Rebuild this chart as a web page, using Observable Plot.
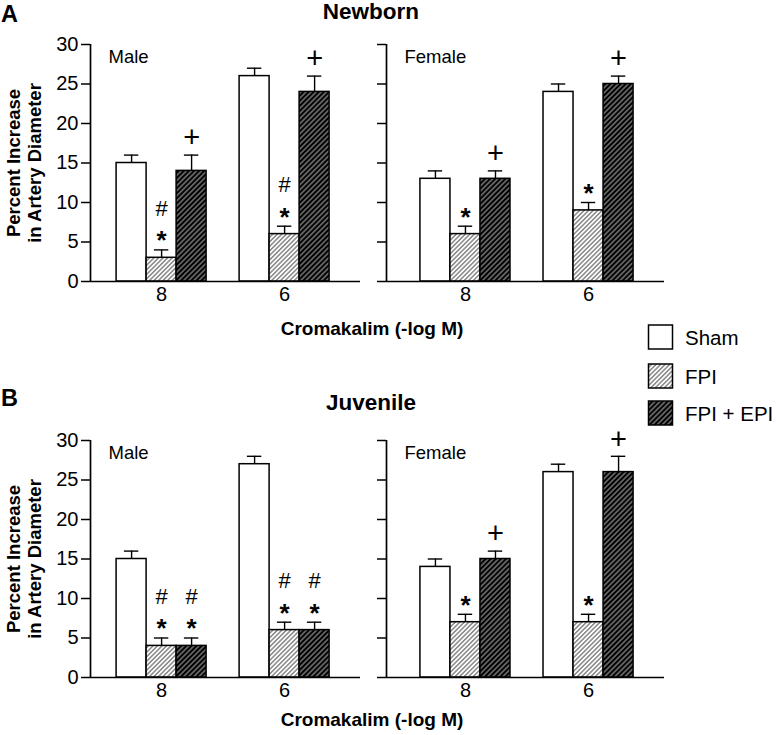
<!DOCTYPE html>
<html>
<head>
<meta charset="utf-8">
<script src="https://cdn.jsdelivr.net/npm/d3@7"></script>
<script src="https://cdn.jsdelivr.net/npm/@observablehq/plot@0.6"></script>
<style>
  html, body { margin: 0; padding: 0; background: #fff; }
  #fig { position: relative; width: 776px; height: 735px; overflow: hidden; background: #fff;
         font-family: "Liberation Sans", Arial, sans-serif; }
  #fig > svg { position: absolute; }
  #overlay { left: 0; top: 0; pointer-events: none; }
</style>
</head>
<body>
<div id="fig"></div>
<script>
// ---------- data ----------
const doses = ["8", "6"];                       // Cromakalim (-log M)
const groups = ["Sham", "FPI", "FPI + EPI"];
const yTicks = [0, 5, 10, 15, 20, 25, 30];

// values[doseIndex][groupIndex]
const newbornMaleMean   = [[15, 3, 14], [26, 6, 24]];
const newbornMaleSem    = [[1, 1, 2],   [1, 1, 2]];
const newbornMaleSig    = [["", "#*", "+"], ["", "#*", "+"]];

const newbornFemaleMean = [[13, 6, 13], [24, 9, 25]];
const newbornFemaleSem  = [[1, 1, 1],   [1, 1, 1]];
const newbornFemaleSig  = [["", "*", "+"], ["", "*", "+"]];

const juvenileMaleMean  = [[15, 4, 4],  [27, 6, 6]];
const juvenileMaleSem   = [[1, 1, 1],   [1, 1, 1]];
const juvenileMaleSig   = [["", "#*", "#*"], ["", "#*", "#*"]];

const juvenileFemaleMean = [[14, 7, 15], [26, 7, 26]];
const juvenileFemaleSem  = [[1, 1, 1],   [1, 1, 2]];
const juvenileFemaleSig  = [["", "*", "+"], ["", "*", "+"]];

const yLabel = "Percent Increase\nin Artery Diameter";
const xLabel = "Cromakalim (-log M)";

// ---------- layout ----------
const STEP = 4.1;   // distance between dose groups, in bar widths
const fills = {"Sham": "white", "FPI": "url(#hatchLight)", "FPI + EPI": "url(#hatchDark)"};
const FONT = "'Liberation Sans', Arial, sans-serif";

function rowsFor(mean, sem, sig) {
  return doses.flatMap((dose, i) => groups.map((group, j) => ({
    dose, group, pos: i * STEP + (j - 1),
    mean: mean[i][j], sem: sem[i][j], top: mean[i][j] + sem[i][j], sig: sig[i][j]
  })));
}

function panel({mean, sem, sig, sex, xmin, marginLeft, width, yLabels}) {
  const rows = rowsFor(mean, sem, sig);
  const centers = doses.map((d, i) => i * STEP);
  const marks = [
    Plot.rectY(rows, {x1: d => d.pos - 0.5, x2: d => d.pos + 0.5, y1: 0, y2: "mean",
      fill: d => fills[d.group], stroke: "black", strokeWidth: 1.5}),
    Plot.ruleX(rows, {x: "pos", y1: "mean", y2: "top", stroke: "black", strokeWidth: 1.4}),
    Plot.ruleY(rows, {y: "top", x1: d => d.pos - 0.24, x2: d => d.pos + 0.24, stroke: "black", strokeWidth: 1.4}),
    Plot.ruleY([0], {stroke: "black", strokeWidth: 1.7}),
    Plot.ruleX([xmin], {y1: 0, y2: 30, stroke: "black", strokeWidth: 1.7}),
    Plot.axisY(yTicks, {tickSize: 9, tickPadding: 3, strokeWidth: 1.5, fontSize: 20,
      tickFormat: yLabels ? (d => String(d)) : (() => ""), label: null}),
    Plot.axisX(centers, {tickSize: 0, tickPadding: 5, fontSize: 20,
      tickFormat: v => doses[Math.round(v / STEP)], label: null}),
    Plot.text(rows.filter(d => d.sig.includes("*")), {x: "pos", y: "top", text: () => "*",
      dy: -9, fontSize: 26, fontWeight: "bold"}),
    Plot.text(rows.filter(d => d.sig.includes("#")), {x: "pos", y: "top", text: () => "#",
      dy: -41, fontSize: 22}),
    Plot.text(rows.filter(d => d.sig.includes("+")), {x: "pos", y: "top", text: () => "+",
      dy: -17, fontSize: 29}),
    Plot.text([sex], {frameAnchor: "top-left", dx: 18, dy: 13, lineAnchor: "middle",
      textAnchor: "start", fontSize: 18.5})
  ];
  if (yLabels) {
    marks.push(Plot.text([yLabel], {frameAnchor: "left", dx: -67, rotate: -90,
      textAnchor: "middle", lineAnchor: "middle", fontWeight: "bold", fontSize: 18.5, lineHeight: 1.18}));
  }
  return Plot.plot({
    width, height: 277, marginLeft, marginRight: 0, marginTop: 10, marginBottom: 30,
    style: {fontFamily: FONT, fontSize: "20px", color: "black", background: "transparent", overflow: "visible"},
    x: {type: "linear", domain: [xmin, 6.63], axis: null},
    y: {domain: [0, 30], axis: null},
    marks
  });
}

const fig = document.getElementById("fig");

// overlay (pattern defs, titles, legend)
const W = 776, H = 735;
const overlay = d3.create("svg").attr("id", "overlay").attr("width", W).attr("height", H)
  .attr("font-family", FONT);
const defs = overlay.append("defs");
const pl = defs.append("pattern").attr("id", "hatchLight").attr("patternUnits", "userSpaceOnUse")
  .attr("width", 3.2).attr("height", 3.2).attr("patternTransform", "rotate(45)");
pl.append("rect").attr("width", 3.2).attr("height", 3.2).attr("fill", "white");
pl.append("line").attr("x1", 1.6).attr("x2", 1.6).attr("y1", 0).attr("y2", 3.2)
  .attr("stroke", "#2a2a2a").attr("stroke-width", 0.85);
const pd = defs.append("pattern").attr("id", "hatchDark").attr("patternUnits", "userSpaceOnUse")
  .attr("width", 3.6).attr("height", 3.6).attr("patternTransform", "rotate(45)");
pd.append("rect").attr("width", 3.6).attr("height", 3.6).attr("fill", "black");
pd.append("line").attr("x1", 1.8).attr("x2", 1.8).attr("y1", 0).attr("y2", 3.6)
  .attr("stroke", "white").attr("stroke-width", 0.7);

function label(x, y, text, size, weight, anchor) {
  overlay.append("text").attr("x", x).attr("y", y).attr("font-size", size)
    .attr("font-weight", weight).attr("text-anchor", anchor).attr("fill", "black").text(text);
}
label(1, 22, "A", 23.5, "bold", "start");
label(371, 19, "Newborn", 22.5, "bold", "middle");
label(372, 335, xLabel, 19, "bold", "middle");
label(1, 406, "B", 23.5, "bold", "start");
label(371, 410, "Juvenile", 22.5, "bold", "middle");
label(372, 726, xLabel, 19, "bold", "middle");

// legend
const legendTop = [325, 364, 401];
groups.forEach((g, i) => {
  overlay.append("rect").attr("x", 648.5).attr("y", legendTop[i]).attr("width", 24).attr("height", 24)
    .attr("fill", fills[g]).attr("stroke", "black").attr("stroke-width", 1.5);
  label(685, legendTop[i] + 19.5, g, 20.5, "normal", "start");
});

// panels
const panels = [
  {mean: newbornMaleMean, sem: newbornMaleSem, sig: newbornMaleSig, sex: "Male",
   xmin: -2.37, marginLeft: 90, width: 360, yLabels: true, left: 0, top: 34},
  {mean: newbornFemaleMean, sem: newbornFemaleSem, sig: newbornFemaleSig, sex: "Female",
   xmin: -2.63, marginLeft: 26, width: 304, yLabels: false, left: 360, top: 34},
  {mean: juvenileMaleMean, sem: juvenileMaleSem, sig: juvenileMaleSig, sex: "Male",
   xmin: -2.37, marginLeft: 90, width: 360, yLabels: true, left: 0, top: 430},
  {mean: juvenileFemaleMean, sem: juvenileFemaleSem, sig: juvenileFemaleSig, sex: "Female",
   xmin: -2.63, marginLeft: 26, width: 304, yLabels: false, left: 360, top: 430}
];
for (const p of panels) {
  const svg = panel(p);
  svg.style.position = "absolute";
  svg.style.left = p.left + "px";
  svg.style.top = p.top + "px";
  fig.appendChild(svg);
}
fig.appendChild(overlay.node());
</script>
</body>
</html>
